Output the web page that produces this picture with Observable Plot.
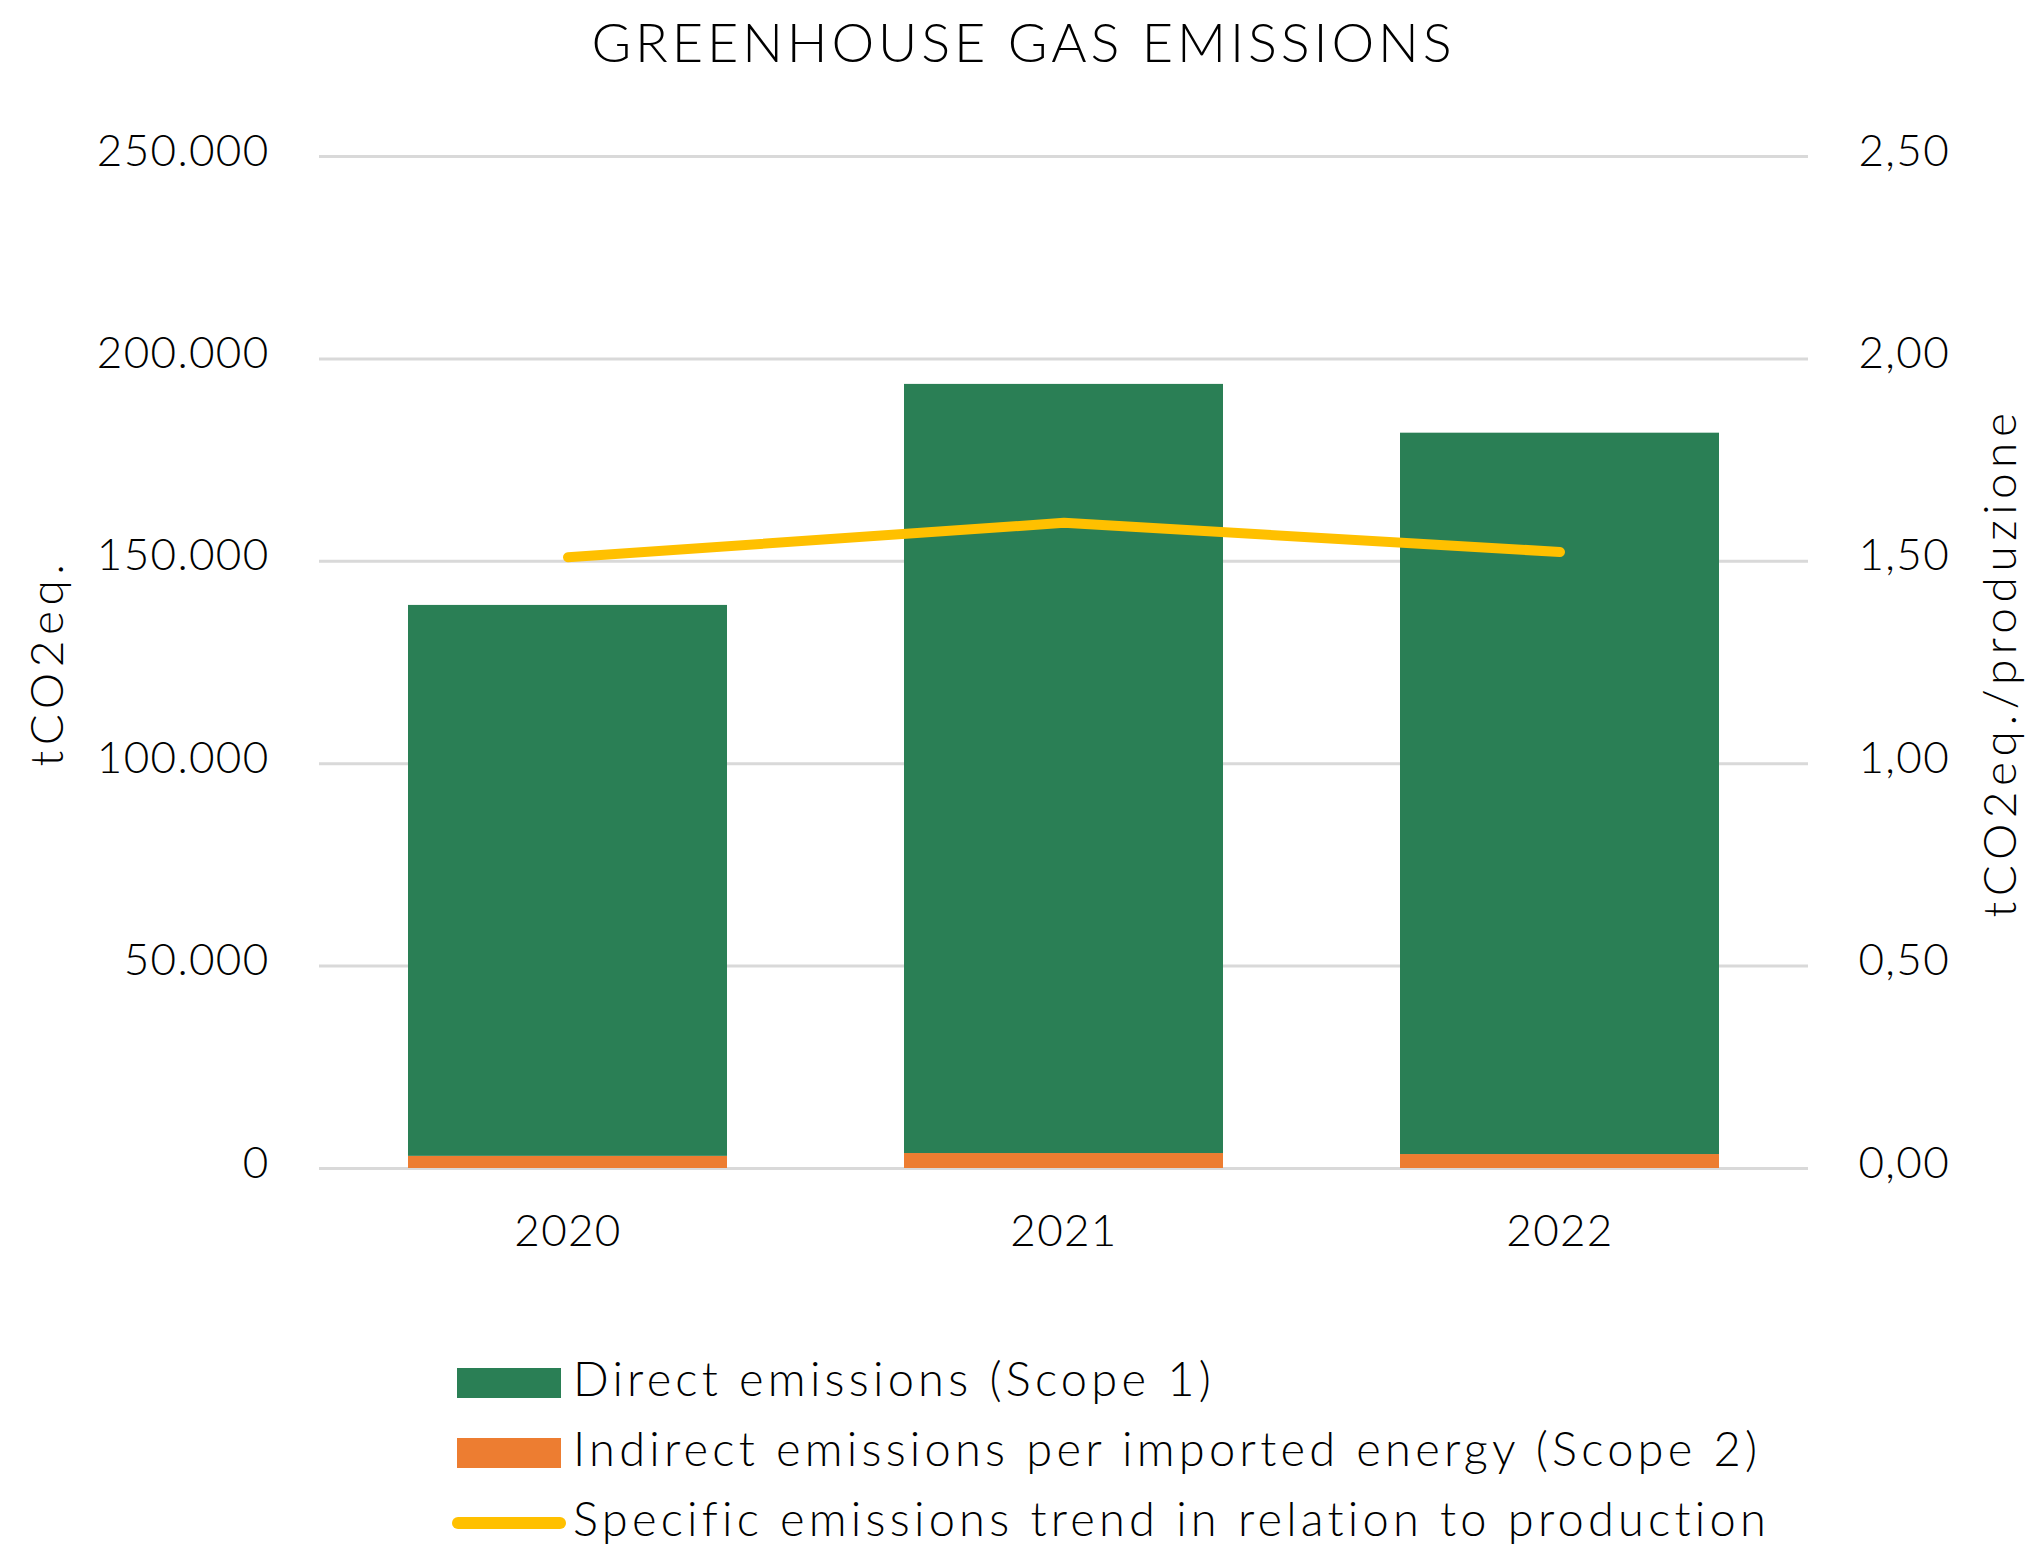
<!DOCTYPE html>
<html><head><meta charset="utf-8">
<script src="https://cdn.jsdelivr.net/npm/d3@7"></script>
<script src="https://cdn.jsdelivr.net/npm/@observablehq/plot@0.6"></script>
<style>
body{margin:0;background:#fff;font-family:Lato,sans-serif;font-weight:300;color:#000;width:2035px;overflow:hidden;}
#title{height:80px;line-height:84px;text-align:center;font-size:54px;letter-spacing:0.072em;padding-left:12px;}
#chart svg{display:block;}
#legend{margin-left:457px;margin-top:48px;}
.row{display:flex;align-items:center;height:70px;font-size:47px;letter-spacing:0.09em;}
.row span{position:relative;top:-5px;}
.sw{width:104px;height:30px;margin-right:12px;flex:none;}
.ln{width:104px;height:12px;border-radius:6px;margin-left:-5px;margin-right:7px;padding-left:10px;box-sizing:content-box;flex:none;}
</style></head><body>
<div id="title">GREENHOUSE GAS EMISSIONS</div>
<div id="chart"></div>
<div id="legend"></div>
<script>
const years = ["2020", "2021", "2022"];
const scope1 = [136100, 190000, 178200];
const scope2 = [3000, 3700, 3450];
const specific = [1.51, 1.595, 1.523];
const leftTicks = [0, 50000, 100000, 150000, 200000, 250000];
const rightTicks = [0, 0.5, 1, 1.5, 2, 2.5];
const seriesNames = ["Direct emissions (Scope 1)", "Indirect emissions per imported energy (Scope 2)", "Specific emissions trend in relation to production"];
const colors = ["#2A7F55", "#ED7D31", "#FFC000"];
const leftLabel = "tCO2eq.";
const rightLabel = "tCO2eq./produzione";

const K = 100000; // right axis (2,50) aligned with left axis (250.000)
const loc = d3.formatLocale({decimal: ",", thousands: ".", grouping: [3], currency: ["€", ""]});
const fmtL = loc.format(",.0f");
const fmtR = loc.format(".2f");

const bars = [
  ...years.map((y, i) => ({year: y, series: seriesNames[1], value: scope2[i]})),
  ...years.map((y, i) => ({year: y, series: seriesNames[0], value: scope1[i]}))
];
const trend = years.map((y, i) => ({year: y, v: specific[i] * K}));

const chart = Plot.plot({
  width: 2035,
  height: 1220,
  marginLeft: 319,
  marginRight: 227,
  marginTop: 76,
  marginBottom: 132,
  style: {fontFamily: "Lato, sans-serif", fontSize: "44px", fontWeight: 300, color: "#000", background: "#fff", letterSpacing: "0.03em"},
  x: {domain: years, paddingInner: 0.356, paddingOuter: 0.178},
  y: {domain: [0, 250000]},
  color: {domain: seriesNames.slice(0, 2), range: colors.slice(0, 2)},
  marks: [
    Plot.ruleY(leftTicks, {stroke: "#D9D9D9", strokeWidth: 3}),
    Plot.barY(bars, {x: "year", y: "value", fill: "series"}),
    Plot.line(trend, {x: "year", y: "v", stroke: colors[2], strokeWidth: 10, strokeLinecap: "round", strokeLinejoin: "miter"}),
    Plot.axisX({tickSize: 0, tickPadding: 46, label: null}),
    Plot.axisY(leftTicks, {anchor: "left", tickSize: 0, tickPadding: 50, dy: -5, tickFormat: fmtL, label: null}),
    Plot.axisY(rightTicks.map(v => v * K), {anchor: "right", tickSize: 0, tickPadding: 50, dy: -5, tickFormat: d => fmtR(d / K), label: null}),
    Plot.axisY({anchor: "left", ticks: [], tickSize: 0, label: leftLabel, labelAnchor: "center", labelOffset: 289, labelArrow: "none", fontSize: 46}),
    Plot.axisY({anchor: "right", ticks: [], tickSize: 0, label: rightLabel, labelAnchor: "center", labelOffset: 207, labelArrow: "none", fontSize: 46})
  ]
});
chart.querySelectorAll("text").forEach(t => {
  const s = t.textContent;
  if (s === leftLabel || s === rightLabel) t.setAttribute("letter-spacing", "0.12em");
});
document.getElementById("chart").appendChild(chart);

const legend = document.getElementById("legend");
seriesNames.forEach((name, i) => {
  const row = document.createElement("div");
  row.className = "row";
  const sw = document.createElement("div");
  sw.className = i < 2 ? "sw" : "ln";
  sw.style.background = colors[i];
  const t = document.createElement("span");
  t.textContent = name;
  row.appendChild(sw);
  row.appendChild(t);
  legend.appendChild(row);
});
</script>
</body></html>
